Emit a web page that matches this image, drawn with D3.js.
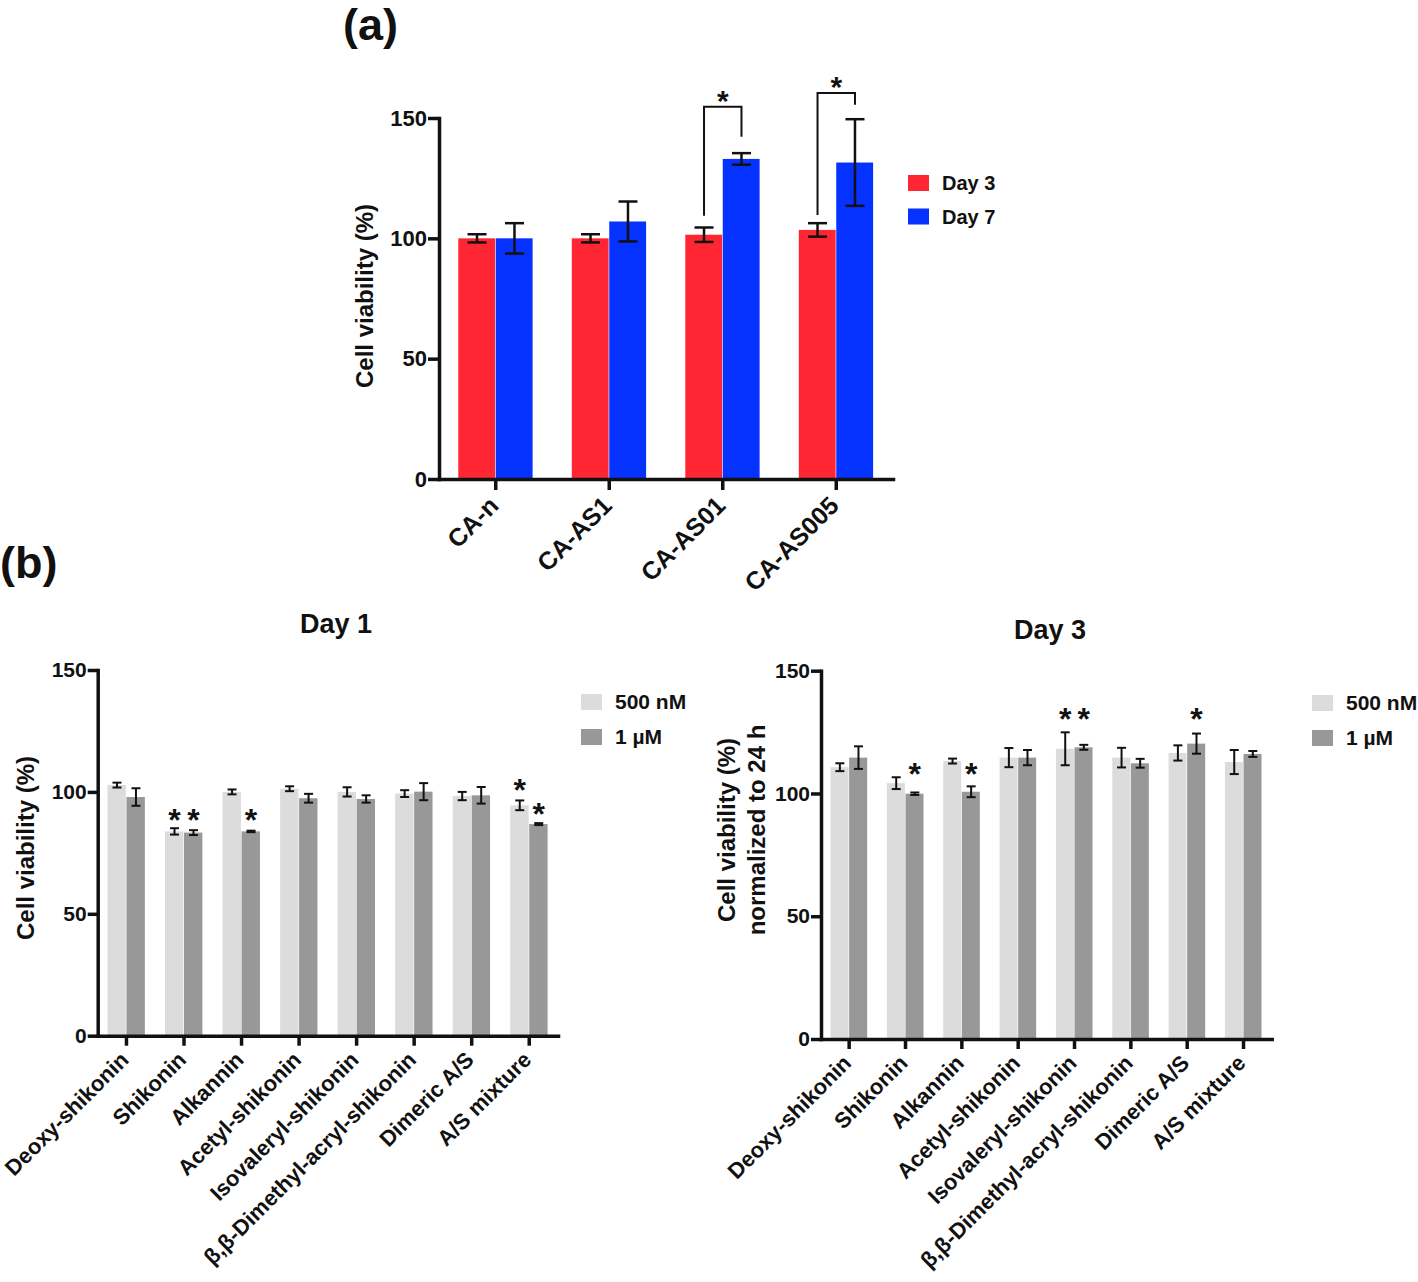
<!DOCTYPE html>
<html><head><meta charset="utf-8">
<script src="https://cdn.jsdelivr.net/npm/d3@7"></script>
<style>
body{margin:0;background:#fff}
text{font-family:"Liberation Sans",Arial,Helvetica,sans-serif;font-weight:bold;fill:#111}
</style>
</head><body>
<svg id="c" width="1418" height="1282"></svg>
<script>
// ---------- DATA ----------
const yTicks = [0, 50, 100, 150];

// Panel (a)
const aGroups = ["CA-n", "CA-AS1", "CA-AS01", "CA-AS005"];
const aSeries = ["Day 3", "Day 7"];
const aDay3 = [100, 100, 101.5, 103.5];
const aDay3Err = [1.7, 1.7, 3, 2.8];
const aDay7 = [100, 107, 133, 131.5];
const aDay7Err = [6.3, 8.3, 2.4, 18];
const aBracketGroups = ["CA-AS01", "CA-AS005"];
const aBracketTop = [154.7, 160.4];
const aBracketLeftEnd = [109.4, 109.7];
const aBracketRightEnd = [142.2, 155.5];

// Panel (b)
const bCompounds = ["Deoxy-shikonin", "Shikonin", "Alkannin", "Acetyl-shikonin",
  "Isovaleryl-shikonin", "β,β-Dimethyl-acryl-shikonin", "Dimeric A/S", "A/S mixture"];
const bSeries = ["500 nM", "1 µM"];
// Day 1
const d1_500 = [102.8, 83.8, 100, 101.3, 100, 99.3, 98.3, 94.5];
const d1_500Err = [1, 1.3, 1, 1, 1.9, 1.4, 1.7, 2];
const d1_1uM = [97.9, 83.3, 83.8, 97.4, 97.1, 100.1, 98.6, 86.8];
const d1_1uMErr = [3.6, 1, 0.3, 1.8, 1.5, 3.5, 3.4, 0.4];
const d1Star500 = [null, 91.5, null, null, null, null, null, 103.8];
const d1Star1uM = [null, 91.5, 91.5, null, null, null, null, 93.9];
// Day 3
const d3_500 = [110.7, 104.2, 113.2, 114.6, 118.2, 114.6, 116.5, 112.8];
const d3_500Err = [1.6, 2.4, 1, 3.9, 6.7, 4, 3.1, 4.9];
const d3_1uM = [114.6, 99.9, 100.7, 114.6, 118.8, 112.3, 120.3, 116.1];
const d3_1uMErr = [4.6, 0.5, 2.2, 3.1, 1, 1.8, 4.1, 1.2];
const d3Star500 = [null, null, null, null, 133.1, null, null, null];
const d3Star1uM = [null, 110.9, 110.9, null, 133.1, null, 133.1, null];

// ---------- DRAWING ----------
const svg = d3.select("#c");

function panel(o) {
  const g = svg.append("g");
  const x = d3.scaleBand().domain(o.groups).range([o.x0, o.x1]).paddingInner(0.34).paddingOuter(0.17);
  const xs = d3.scaleBand().domain(o.series).range([0, x.bandwidth()]);
  const y = d3.scaleLinear().domain([0, 150]).range([o.yZero, o.yTop]);

  o.series.forEach((s, si) => {
    const vals = o.values[si], errs = o.errs[si];
    const cx = (d) => x(d) + xs(s) + xs.bandwidth() / 2;
    g.append("g").selectAll("rect").data(o.groups).join("rect")
      .attr("x", d => x(d) + xs(s))
      .attr("y", (d, i) => y(vals[i]))
      .attr("width", xs.bandwidth() - 0.6)
      .attr("height", (d, i) => y(0) - y(vals[i]))
      .attr("fill", o.colors[si]);
    const eg = g.append("g").attr("stroke", "#111").attr("stroke-width", o.errW).attr("fill", "none");
    o.groups.forEach((d, i) => {
      const c = cx(d), hi = y(vals[i] + errs[i]), lo = y(vals[i] - errs[i]);
      eg.append("line").attr("x1", c).attr("x2", c).attr("y1", hi).attr("y2", lo);
      eg.append("line").attr("x1", c - o.capW / 2).attr("x2", c + o.capW / 2).attr("y1", hi).attr("y2", hi);
      eg.append("line").attr("x1", c - o.capW / 2).attr("x2", c + o.capW / 2).attr("y1", lo).attr("y2", lo);
    });
    if (o.stars) {
      o.groups.forEach((d, i) => {
        const sv = o.stars[si][i];
        if (sv == null) return;
        g.append("text").attr("x", cx(d)).attr("y", y(sv) + 0.57 * o.starFont)
          .attr("text-anchor", "middle").attr("font-size", o.starFont).text("*");
      });
    }
  });

  const ya = g.append("g").attr("transform", `translate(${o.x0},0)`)
    .call(d3.axisLeft(y).tickValues(yTicks).tickSize(o.tick).tickSizeOuter(0).tickPadding(1));
  const xa = g.append("g").attr("transform", `translate(0,${o.yZero})`)
    .call(d3.axisBottom(x).tickSize(o.tick).tickSizeOuter(0));
  [ya, xa].forEach(a => {
    a.select(".domain").attr("stroke", "#111").attr("stroke-width", o.axisW).attr("stroke-linecap", "square");
    a.selectAll(".tick line").attr("stroke", "#111").attr("stroke-width", o.axisW);
  });
  ya.selectAll(".tick text").attr("font-size", o.tickFont).attr("font-family", null).attr("fill", "#111");
  xa.selectAll(".tick text")
    .attr("font-size", o.xFont).attr("font-family", null).attr("fill", "#111")
    .attr("text-anchor", "end")
    .attr("y", 0).attr("dy", "0.35em")
    .attr("transform", `translate(${o.xLabDx},${o.xLabDy}) rotate(-45)`);

  // y label
  const yl = g.append("text").attr("font-size", o.yLabFont).attr("text-anchor", "middle")
    .attr("transform", `translate(${o.yLabX},${o.yLabY}) rotate(-90)`);
  o.yLab.forEach((t, k) => yl.append("tspan").attr("x", 0).attr("dy", k === 0 ? 0 : "1.27em").text(t));

  // legend
  o.series.forEach((s, si) => {
    g.append("rect").attr("x", o.legX).attr("y", o.legY + si * o.legStep).attr("width", 21).attr("height", 16)
      .attr("fill", o.colors[si]);
    g.append("text").attr("x", o.legX + 34).attr("y", o.legY + si * o.legStep + 15)
      .attr("font-size", o.legFont).text(s);
  });
  if (o.title) {
    g.append("text").attr("x", o.title.x).attr("y", o.title.y).attr("text-anchor", "middle")
      .attr("font-size", 27).text(o.title.t);
  }
  return { x, xs, y, g };
}

// Panel (a)
const A = panel({
  groups: aGroups, series: aSeries, values: [aDay3, aDay7], errs: [aDay3Err, aDay7Err],
  colors: ["#fe2633", "#0532fe"],
  x0: 439, x1: 893, yZero: 479, yTop: 118,
  errW: 2.5, capW: 19, axisW: 3.5, tick: 11,
  tickFont: 22, xFont: 25, xLabDx: -2, xLabDy: 22,
  yLab: ["Cell viability (%)"], yLabFont: 24, yLabX: 373, yLabY: 296,
  legX: 908, legY: 175, legStep: 33.5, legFont: 20
});
// brackets
aBracketGroups.forEach((gname, i) => {
  const xl = A.x(gname) + A.xs("Day 3") + A.xs.bandwidth() / 2;
  const xr = A.x(gname) + A.xs("Day 7") + A.xs.bandwidth() / 2;
  const yt = A.y(aBracketTop[i]);
  A.g.append("path")
    .attr("d", `M${xl},${A.y(aBracketLeftEnd[i])}V${yt}H${xr}V${A.y(aBracketRightEnd[i])}`)
    .attr("fill", "none").attr("stroke", "#111").attr("stroke-width", 2);
  A.g.append("text").attr("x", (xl + xr) / 2).attr("y", yt - 13 + 0.57 * 30)
    .attr("text-anchor", "middle").attr("font-size", 30).text("*");
});

// Panel (b) Day 1
panel({
  groups: bCompounds, series: bSeries, values: [d1_500, d1_1uM], errs: [d1_500Err, d1_1uMErr],
  stars: [d1Star500, d1Star1uM], starFont: 32,
  colors: ["#dcdcdc", "#989898"],
  x0: 97.7, x1: 558, yZero: 1035.7, yTop: 670,
  errW: 2, capW: 9, axisW: 3.5, tick: 10,
  tickFont: 21, xFont: 22, xLabDx: -2, xLabDy: 20,
  yLab: ["Cell viability (%)"], yLabFont: 24, yLabX: 34, yLabY: 848,
  legX: 581, legY: 694, legStep: 35, legFont: 21,
  title: { x: 336, y: 633, t: "Day 1" }
});

// Panel (b) Day 3
panel({
  groups: bCompounds, series: bSeries, values: [d3_500, d3_1uM], errs: [d3_500Err, d3_1uMErr],
  stars: [d3Star500, d3Star1uM], starFont: 32,
  colors: ["#dcdcdc", "#989898"],
  x0: 821, x1: 1271.7, yZero: 1039, yTop: 670.7,
  errW: 2, capW: 9, axisW: 3.5, tick: 10,
  tickFont: 21, xFont: 22, xLabDx: -2, xLabDy: 20,
  yLab: ["Cell viability (%)", "normalized to 24 h"], yLabFont: 24, yLabX: 735, yLabY: 830,
  legX: 1312, legY: 695, legStep: 35, legFont: 21,
  title: { x: 1050, y: 639, t: "Day 3" }
});

// Panel letters
svg.append("text").attr("x", 343).attr("y", 40).attr("font-size", 45).text("(a)");
svg.append("text").attr("x", 0).attr("y", 578).attr("font-size", 45).text("(b)");
</script>
</body></html>
